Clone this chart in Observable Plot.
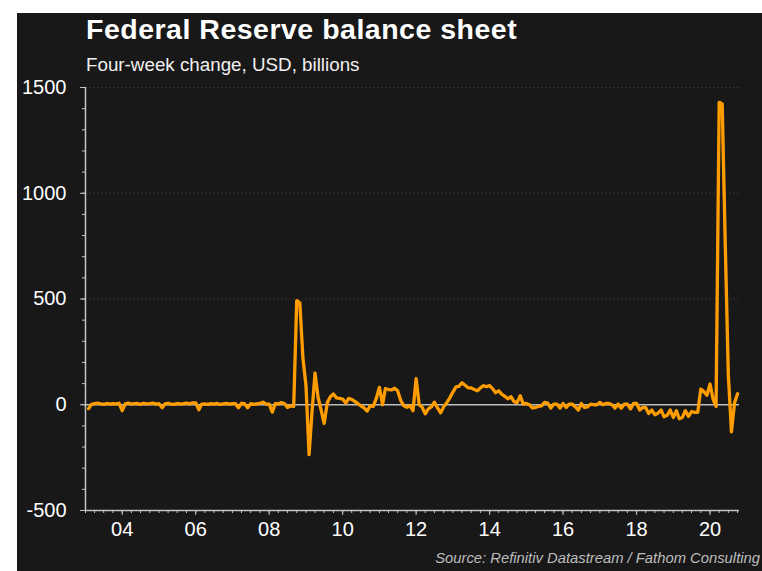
<!DOCTYPE html>
<html>
<head>
<meta charset="utf-8">
<script src="https://cdn.jsdelivr.net/npm/d3@7"></script>
<script src="https://cdn.jsdelivr.net/npm/@observablehq/plot@0.6"></script>
<style>
  html, body { margin: 0; padding: 0; background: #ffffff; }
  #panel { position: absolute; left: 17px; top: 13px; width: 745px; height: 558px; background: #181818; overflow: hidden;
           font-family: "Liberation Sans", Arial, Helvetica, sans-serif; }
  #title { position: absolute; left: 69px; top: 0px; font-size: 28.5px; font-weight: bold; color: #ffffff; letter-spacing: 0.5px; line-height: 32px; white-space: nowrap; }
  #subtitle { position: absolute; left: 69px; top: 41px; font-size: 18.8px; color: #f0f0f0; line-height: 22px; white-space: nowrap; }
  #source { position: absolute; right: 2px; top: 536px; font-size: 14.8px; font-style: italic; color: #bdbdbd; line-height: 18px; white-space: nowrap; }
  #chart { position: absolute; left: 0; top: 0; }
</style>
</head>
<body>
<div id="panel">
  <div id="chart"></div>
  <div id="title">Federal Reserve balance sheet</div>
  <div id="subtitle">Four-week change, USD, billions</div>
  <div id="source">Source: Refinitiv Datastream / Fathom Consulting</div>
</div>
<script>
// Four-week change in the Fed balance sheet, USD bn, monthly readings (first reading: Feb 2003)
const startYear = 2003;
const startMonth = 1; // February (0-based)
const v2003 = [-18, 2, 5, 8, 4, 2, 6, 3, 5, 4, 7];
const v2004 = [-28, 4, 8, 3, 5, 6, 2, 7, 4, 5, 8, 3];
const v2005 = [5, -14, 4, 7, 3, 2, 6, 3, 5, 8, 4, 9];
const v2006 = [9, -24, 3, 4, 2, 5, 3, 6, 2, 4, 7, 3];
const v2007 = [5, 5, -14, 7, 5, -14, 5, 2, 4, 6, 12, 3];
const v2008 = [3, -35, 5, 4, 10, 6, -13, -5, -8, 492, 482, 224];
const v2009 = [90, -236, -40, 150, 35, -25, -88, 10, 38, 51, 32, 30];
const v2010 = [27, 8, 30, 25, 16, 5, -5, -15, -30, -5, -8, 30];
const v2011 = [82, 0, 76, 72, 70, 78, 66, 20, -5, -12, -5, -28];
const v2012 = [123, 0, -12, -43, -20, -10, 12, -15, -38, -10, 10, 33];
const v2013 = [60, 85, 87, 104, 92, 80, 80, 72, 66, 80, 90, 86];
const v2014 = [90, 75, 57, 66, 50, 40, 28, 38, 15, 10, 43, 3];
const v2015 = [6, 0, -15, -13, -8, -5, 11, 8, -16, 3, 3, -16];
const v2016 = [6, -13, 3, 3, -9, -25, 6, -13, -10, 3, 0, 0];
const v2017 = [11, 0, 6, 6, 0, -16, 3, -16, 3, 3, -20, 6];
const v2018 = [6, -25, -13, -13, -41, -25, -47, -40, -25, -57, -50, -25];
const v2019 = [-60, -28, -66, -60, -28, -55, -32, -36, -36, 74, 62, 45];
const v2020 = [98, 25, -8, 1430, 1422, 745, 140, -128, 10, 52];

const yMajorTicks = [-500, 0, 500, 1000, 1500];
const yMinorTicks = [-500, -400, -300, -200, -100, 0, 100, 200, 300, 400, 500, 600, 700, 800, 900, 1000, 1100, 1200, 1300, 1400, 1500];
const yGridTicks = [500, 1000, 1500];
const xTickYears = [2004, 2006, 2008, 2010, 2012, 2014, 2016, 2018, 2020];
const xDomain = [new Date(Date.UTC(2003, 0, 1)), new Date(Date.UTC(2020, 9, 20))];

const allValues = [].concat(v2003, v2004, v2005, v2006, v2007, v2008, v2009, v2010,
  v2011, v2012, v2013, v2014, v2015, v2016, v2017, v2018, v2019, v2020);
const data = allValues.map((value, i) => ({
  date: new Date(Date.UTC(startYear, startMonth + i, 1)),
  value
}));

const majorDates = xTickYears.map(y => new Date(Date.UTC(y, 0, 1)));
const minorDates = d3.utcMonth.every(3).range(xDomain[0], xDomain[1]);

const axisColor = "#c4c4c4";
const font = "\"Liberation Sans\", Arial, Helvetica, sans-serif";

const chart = Plot.plot({
  width: 745,
  height: 558,
  marginLeft: 68,
  marginRight: 23,
  marginTop: 74,
  marginBottom: 61,
  style: { background: "transparent", color: "#ffffff", fontFamily: font, fontSize: "20px" },
  x: { type: "utc", domain: xDomain },
  y: { domain: [-500, 1500] },
  marks: [
    Plot.ruleY(yGridTicks, { stroke: "#303030", strokeDasharray: "2,2", strokeWidth: 1 }),
    Plot.ruleY([0], { stroke: "#bdbdbd", strokeWidth: 1.6 }),
    Plot.lineY(data, { x: "date", y: "value", stroke: "#ff9d00", strokeWidth: 3.3, strokeLinejoin: "round" }),
    Plot.ruleX([xDomain[0]], { stroke: axisColor, strokeWidth: 1.5 }),
    Plot.ruleY([-500], { stroke: axisColor, strokeWidth: 1.5 }),
    Plot.axisY(yMinorTicks, { anchor: "left", tickSize: 3, fill: "none", stroke: axisColor, label: null }),
    Plot.axisY(yMajorTicks, { anchor: "left", tickSize: 5, tickPadding: 14, stroke: axisColor, fill: "#ffffff",
      fontSize: 20, tickFormat: d => String(d), label: null }),
    Plot.axisX(minorDates, { anchor: "bottom", tickSize: 3, fill: "none", stroke: axisColor, label: null }),
    Plot.axisX(majorDates, { anchor: "bottom", tickSize: 5, tickPadding: 6, stroke: axisColor, fill: "#ffffff",
      fontSize: 20, tickFormat: d => String(d.getUTCFullYear() % 100).padStart(2, "0"), label: null })
  ]
});
document.getElementById("chart").appendChild(chart);
</script>
</body>
</html>
